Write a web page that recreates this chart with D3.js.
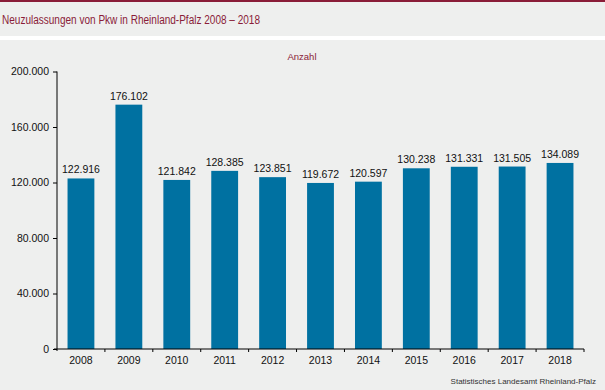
<!DOCTYPE html>
<html><head><meta charset="utf-8">
<script src="https://cdn.jsdelivr.net/npm/d3@7"></script>
<style>
html,body{margin:0;padding:0;background:#fff;}
svg{display:block;font-family:"Liberation Sans",Arial,sans-serif;}
</style></head>
<body>
<svg id="c" width="605" height="390"></svg>
<script>
const years = ["2008","2009","2010","2011","2012","2013","2014","2015","2016","2017","2018"];
const values = [122916,176102,121842,128385,123851,119672,120597,130238,131331,131505,134089];
const yTicks = [0,40000,80000,120000,160000,200000];
const title = "Neuzulassungen von Pkw in Rheinland-Pfalz 2008 – 2018";
const unitLabel = "Anzahl";
const source = "Statistisches Landesamt Rheinland-Pfalz";

const fmt = v => d3.format(",")(v).replace(/,/g, ".");
const svg = d3.select("#c");
// panels
svg.append("rect").attr("x",0).attr("y",0).attr("width",605).attr("height",390).attr("fill","#ffffff");
svg.append("rect").attr("x",0).attr("y",0).attr("width",605).attr("height",36).attr("fill","#eeefee");
svg.append("rect").attr("x",0).attr("y",0).attr("width",605).attr("height",2).attr("fill","#8a1c38");
svg.append("rect").attr("x",0).attr("y",40).attr("width",605).attr("height",350).attr("fill","#eeefee");

svg.append("text").attr("x",2).attr("y",23.5).attr("font-size",12).attr("fill","#8a1c38")
  .attr("textLength",258).attr("lengthAdjust","spacingAndGlyphs").text(title);
svg.append("text").attr("x",302).attr("y",60).attr("text-anchor","middle").attr("font-size",9.5).attr("fill","#8a1c38").text(unitLabel);
svg.append("text").attr("x",596).attr("y",384).attr("text-anchor","end").attr("font-size",8).attr("fill","#333").text(source);

const x0 = 57, x1 = 584, yB = 349, yT = 71.5;
const x = d3.scaleBand().domain(years).range([x0, x1]).paddingInner(0.44).paddingOuter(0.22);
const y = d3.scaleLinear().domain([0,200000]).range([yB, yT]);

svg.append("g").selectAll("rect").data(values).join("rect")
  .attr("x",(d,i)=>x(years[i])).attr("width",x.bandwidth())
  .attr("y",d=>y(d)).attr("height",d=>yB-y(d)).attr("fill","#0071a1");

svg.append("g").selectAll("text").data(values).join("text")
  .attr("x",(d,i)=>x(years[i])+x.bandwidth()/2).attr("y",d=>y(d)-5)
  .attr("text-anchor","middle").attr("font-size",10.5).attr("fill","#111").text(d=>fmt(d));

// y axis
const ya = svg.append("g").attr("transform",`translate(${x0},0)`)
  .call(d3.axisLeft(y).tickValues(yTicks).tickFormat(fmt).tickSize(4).tickPadding(4));
ya.select(".domain").attr("d",`M0,${yT}V${yB+2}`).attr("stroke","#000");
ya.selectAll("text").attr("font-size",10.5).attr("fill","#111").attr("font-family","Liberation Sans, Arial, sans-serif");

// x axis
const xa = svg.append("g").attr("transform",`translate(0,${yB})`)
  .call(d3.axisBottom(x).tickSize(0).tickPadding(8));
xa.select(".domain").attr("d",`M${x0-3},0H${x1}`).attr("stroke","#000");
xa.selectAll("text").attr("font-size",10.5).attr("fill","#111").attr("font-family","Liberation Sans, Arial, sans-serif");
svg.append("g").selectAll("line").data(d3.range(1,years.length+1)).join("line")
  .attr("x1",i=>x0+ (x1-x0)*i/years.length).attr("x2",i=>x0+(x1-x0)*i/years.length)
  .attr("y1",yB).attr("y2",yB+3).attr("stroke","#000");
</script>
</body></html>
